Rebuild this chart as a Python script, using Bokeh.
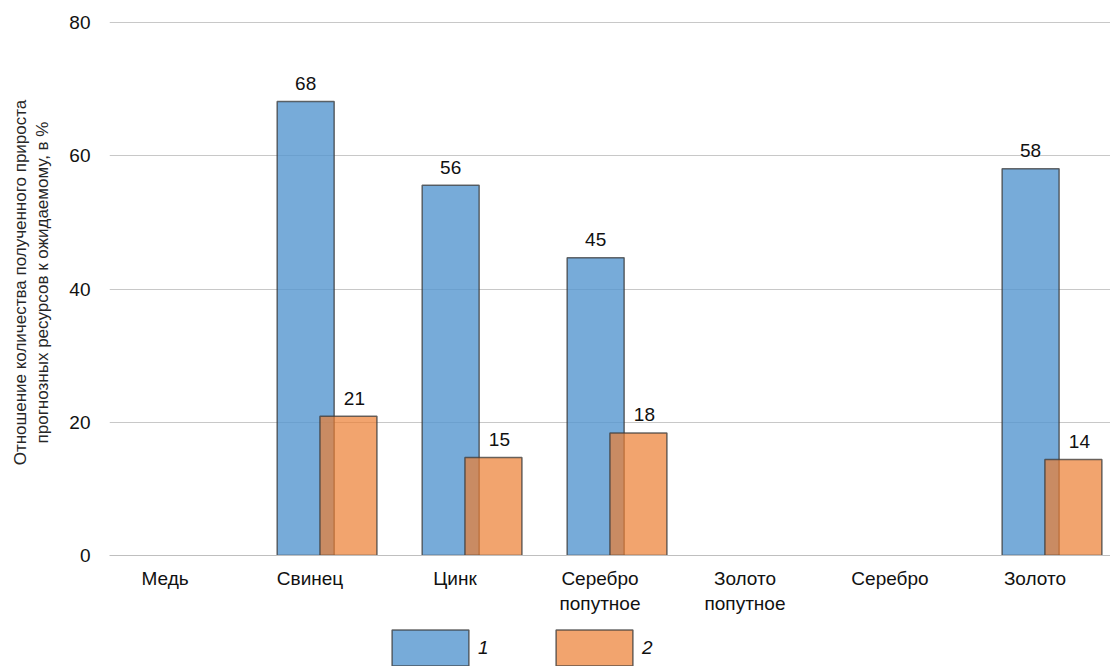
from bokeh.plotting import figure
from bokeh.layouts import column
from bokeh.models import (ColumnDataSource, Range1d, FixedTicker, Legend, LegendItem)
from bokeh.embed import file_html
from bokeh.resources import INLINE

# ---- data ----
categories = ["Медь", "Свинец", "Цинк", "Серебро\nпопутное", "Золото\nпопутное", "Серебро", "Золото"]
series1 = [None, 68.2, 55.6, 44.7, None, None, 58.1]
series2 = [None, 20.9, 14.7, 18.4, None, None, 14.4]
series_names = ["1", "2"]
y_ticks = [0, 20, 40, 60, 80]
y_title = "Отношение количества полученного прироста\nпрогнозных ресурсов к ожидаемому, в %"

FONT = "Liberation Sans"
BLUE = dict(fill_color="#5596d0", fill_alpha=0.8,
            line_color="#3a3a3a", line_alpha=0.75, line_width=1.5)
ORANGE = dict(fill_color="#ed7d31", fill_alpha=0.7,
              line_color="#3a3a3a", line_alpha=0.75, line_width=1.5)

def make_source(vals, shift):
    xs, ys, labels = [], [], []
    for i, v in enumerate(vals):
        if v is None:
            continue
        xs.append(i + shift)
        ys.append(v)
        labels.append(str(round(v)))
    return ColumnDataSource(dict(x=xs, top=ys, label=labels))

src1 = make_source(series1, -0.03)
src2 = make_source(series2, 0.265)

p = figure(width=1110, height=625,
           x_range=Range1d(-0.383, 6.521), y_range=Range1d(0, 82),
           output_backend="svg", toolbar_location=None,
           min_border_left=109, min_border_right=0,
           min_border_top=9, min_border_bottom=70)
p.outline_line_color = None
p.background_fill_color = "white"
p.border_fill_color = "white"

BAR_W = 0.393
p.vbar(x="x", top="top", bottom=0, width=BAR_W, source=src1, **BLUE)
p.vbar(x="x", top="top", bottom=0, width=BAR_W, source=src2, **ORANGE)

p.text(x="x", y="top", text="label", source=src1,
       text_align="center", text_baseline="alphabetic", y_offset=-18,
       text_font={"value": FONT}, text_font_size="19px", text_color="#111111")
p.text(x="x", y="top", text="label", source=src2,
       text_align="center", text_baseline="alphabetic", y_offset=-18, x_offset=6,
       text_font={"value": FONT}, text_font_size="19px", text_color="#111111")

# x axis
xa = p.xaxis[0]
xa.ticker = FixedTicker(ticks=list(range(len(categories))))
xa.major_label_overrides = {i: c for i, c in enumerate(categories)}
xa.major_tick_line_color = None
xa.major_tick_out = 0
xa.major_tick_in = 0
xa.minor_tick_line_color = None
xa.axis_line_color = "#bfbfbf"
xa.major_label_standoff = 12
xa.major_label_text_font = FONT
xa.major_label_text_font_size = "19px"
xa.major_label_text_color = "#111111"
p.xgrid.grid_line_color = None

# y axis
ya = p.yaxis[0]
ya.ticker = FixedTicker(ticks=y_ticks)
ya.major_tick_line_color = None
ya.major_tick_out = 0
ya.major_tick_in = 0
ya.minor_tick_line_color = None
ya.axis_line_color = None
ya.major_label_standoff = 19
ya.major_label_text_font = FONT
ya.major_label_text_font_size = "19px"
ya.major_label_text_color = "#111111"
ya.axis_label = y_title
ya.axis_label_text_font = FONT
ya.axis_label_text_font_size = "17px"
ya.axis_label_text_font_style = "normal"
ya.axis_label_text_color = "#262626"
ya.axis_label_standoff = 14
p.ygrid.grid_line_color = "#c8c8c8"
p.ygrid.grid_line_width = 1

# ---- legend strip ----
q = figure(width=1110, height=41, x_range=Range1d(0, 1), y_range=Range1d(0, 1),
           output_backend="svg", toolbar_location=None,
           x_axis_location=None, y_axis_location=None,
           min_border_left=0, min_border_right=0, min_border_top=0, min_border_bottom=0)
q.outline_line_color = None
q.xgrid.grid_line_color = None
q.ygrid.grid_line_color = None
q.border_fill_color = "white"
# placeholder bars with no height (NaN), only so the legend can draw its swatches
nan = float("nan")
l1 = q.vbar(x="x", top="top", bottom=0, width=0.1,
            source=ColumnDataSource(dict(x=[0.5], top=[nan])), **BLUE)
l2 = q.vbar(x="x", top="top", bottom=0, width=0.1,
            source=ColumnDataSource(dict(x=[0.5], top=[nan])), **ORANGE)

legend = Legend(items=[LegendItem(label=series_names[0], renderers=[l1], index=0),
                       LegendItem(label=series_names[1], renderers=[l2], index=0)],
                orientation="horizontal", location=(273, -4),
                glyph_width=96, glyph_height=45, label_standoff=0,
                label_width=20, spacing=48, padding=0, margin=0,
                border_line_color=None, background_fill_alpha=0,
                label_text_font=FONT, label_text_font_style="italic",
                label_text_font_size="19px", label_text_baseline="middle",
                label_text_color="#111111")
q.add_layout(legend)

layout = column(p, q, spacing=0)
open("out.html", "w").write(file_html(layout, INLINE))
